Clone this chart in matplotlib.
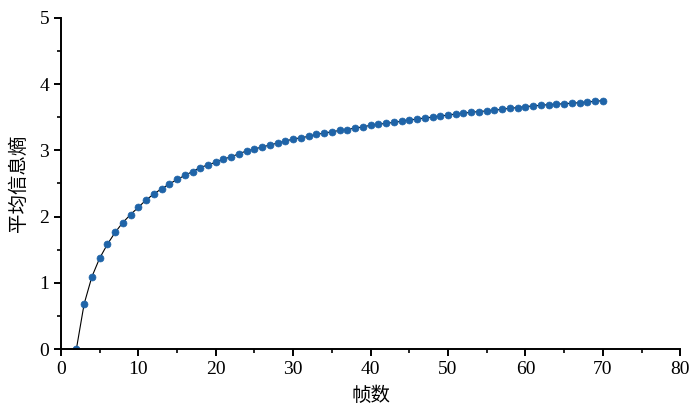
import matplotlib
matplotlib.use('Agg')
import matplotlib.pyplot as plt
from matplotlib.ticker import MultipleLocator

frames = list(range(2, 71))
entropy = [0.00, 0.68, 1.09, 1.37, 1.58, 1.76, 1.91, 2.03, 2.14, 2.25,
           2.34, 2.42, 2.49, 2.56, 2.62, 2.68, 2.74, 2.78, 2.82, 2.87,
           2.90, 2.95, 2.99, 3.02, 3.05, 3.08, 3.11, 3.14, 3.17, 3.19,
           3.21, 3.24, 3.26, 3.28, 3.30, 3.31, 3.34, 3.35, 3.38, 3.39,
           3.41, 3.42, 3.44, 3.46, 3.47, 3.49, 3.50, 3.52, 3.53, 3.55,
           3.56, 3.575, 3.585, 3.595, 3.605, 3.62, 3.635, 3.645, 3.66, 3.67,
           3.68, 3.69, 3.695, 3.705, 3.71, 3.72, 3.73, 3.74, 3.75]

plt.rcParams['font.family'] = ['Liberation Serif', 'Noto Sans CJK SC']

fig = plt.figure(figsize=(6.92, 4.15), dpi=100)
ax = fig.add_axes([0.088, 0.159, 0.895, 0.798])
ax.plot(frames, entropy, color='black', linewidth=0.8,
        marker='o', markersize=5, markerfacecolor='#1f64a8',
        markeredgecolor='#1f64a8', markeredgewidth=0.5)

ax.set_xlim(0, 80)
ax.set_ylim(0, 5)
ax.xaxis.set_major_locator(MultipleLocator(10))
ax.xaxis.set_minor_locator(MultipleLocator(5))
ax.yaxis.set_major_locator(MultipleLocator(1))
ax.yaxis.set_minor_locator(MultipleLocator(0.5))
for s in ['top', 'right']:
    ax.spines[s].set_visible(False)
for s in ['left', 'bottom']:
    ax.spines[s].set_linewidth(1.4)
ax.tick_params(which='major', direction='out', length=5, width=1.4, labelsize=14)
ax.tick_params(which='minor', direction='out', length=3, width=1.2)
ax.set_xlabel('帧数', fontsize=14, labelpad=6)
ax.set_ylabel('平均信息熵', fontsize=14, labelpad=8)

fig.savefig('out.png', dpi=100)
